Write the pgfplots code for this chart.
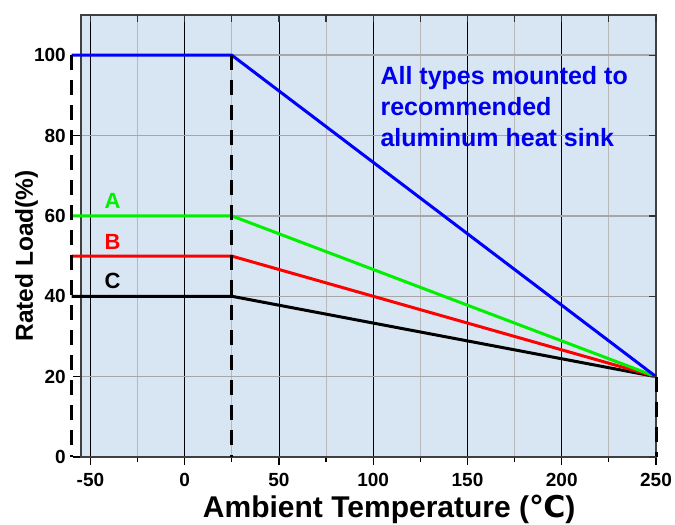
\documentclass[border=0pt]{standalone}
\usepackage{pgfplots}
\pgfplotsset{compat=1.18}
\usepackage{fontspec}
\setmainfont{Liberation Sans}
\newfontfamily\dejavu{DejaVu Sans}
\definecolor{bg}{RGB}{215,230,242}
\definecolor{gridgray}{RGB}{185,185,185}
\definecolor{txtblue}{RGB}{0,0,235}
\definecolor{lgreen}{RGB}{0,240,0}
\begin{document}
\begin{tikzpicture}
\useasboundingbox (-81pt,-68pt) rectangle (594pt,457pt);
\begin{axis}[
  at={(0,0)}, anchor=south west,
  scale only axis, width=575pt, height=442pt,
  xmin=-55, xmax=250, ymin=0, ymax=110,
  clip=false,
  axis background/.style={fill=bg},
  axis line style={draw=black!75, line width=1.5pt},
  xtick={-50,0,...,250},
  xticklabels={-50,0,50,100,150,200,250},
  minor xtick={-25,25,...,225},
  ytick={0,20,...,100},
  yticklabels={0,20,40,60,80,100},
  tick pos=left,
  tick align=outside,
  major tick length=8pt, minor tick length=5pt,
  tick style={black, line width=1.2pt},
  xmajorgrids, xminorgrids, ymajorgrids,
  major x grid style={black, line width=0.9pt},
  minor x grid style={gridgray, line width=0.9pt},
  major y grid style={gridgray!90!black, line width=1.5pt},
  ticklabel style={font=\fontsize{19}{21}\selectfont\bfseries},
  yticklabel style={inner sep=0pt, xshift=-7pt},
  xticklabel style={inner sep=0pt, yshift=-8pt},
]
\addplot[black, line width=3pt] coordinates {(-60,40) (25,40) (250,20)};
\addplot[red, line width=3pt] coordinates {(-60,50) (25,50) (250,20)};
\addplot[lgreen, line width=3pt] coordinates {(-60,60) (25,60) (250,20)};
\addplot[blue, line width=3pt] coordinates {(-60,100) (25,100) (250,20)};
\addplot[black, line width=3pt, dash pattern=on 15pt off 10pt] coordinates {(-60,100) (-60,0)};
\addplot[black, line width=3pt, dash pattern=on 15pt off 10pt] coordinates {(25,100) (25,0)};
\addplot[black, line width=3pt, dash pattern=on 15pt off 10pt] coordinates {(250,20) (250,0)};
\node[lgreen, font=\fontsize{22}{24}\selectfont\bfseries] at (axis cs:-38.3,63.8) {A};
\node[red, font=\fontsize{22}{24}\selectfont\bfseries] at (axis cs:-38.3,53.6) {B};
\node[black, font=\fontsize{22}{24}\selectfont\bfseries] at (axis cs:-38.3,43.9) {C};
\node[txtblue, font=\fontsize{25}{26}\selectfont\bfseries, anchor=base west, inner sep=0pt] at (axis cs:103.8,92.7) {All types mounted to};
\node[txtblue, font=\fontsize{25}{26}\selectfont\bfseries, anchor=base west, inner sep=0pt] at (axis cs:103.8,85.0) {recommended};
\node[txtblue, font=\fontsize{25}{26}\selectfont\bfseries, anchor=base west, inner sep=0pt] at (axis cs:103.8,77.2) {aluminum heat sink};
\node[font=\fontsize{30}{32}\selectfont\bfseries, anchor=base, inner sep=0pt, yshift=-60pt] at (rel axis cs:0.536,0) {Ambient Temperature ({\dejavu\bfseries ℃})};
\node[font=\fontsize{24.5}{26}\selectfont\bfseries, shift={(-48pt,0pt)}, rotate=90, anchor=base, inner sep=0pt] at (rel axis cs:0,0.455) {Rated Load(\%)};
\end{axis}
\begin{axis}[
  at={(0,0)}, anchor=south west,
  scale only axis, width=575pt, height=442pt,
  xmin=-55, xmax=250, ymin=0, ymax=110,
  axis line style={draw=none},
  xtick={-50,-25,...,250},
  ytick={0,20,...,100},
  xticklabels={}, yticklabels={},
  tick pos=right,
  tick align=inside,
  major tick length=7pt,
  tick style={black!80, line width=1.2pt},
]
\end{axis}
\end{tikzpicture}
\end{document}
